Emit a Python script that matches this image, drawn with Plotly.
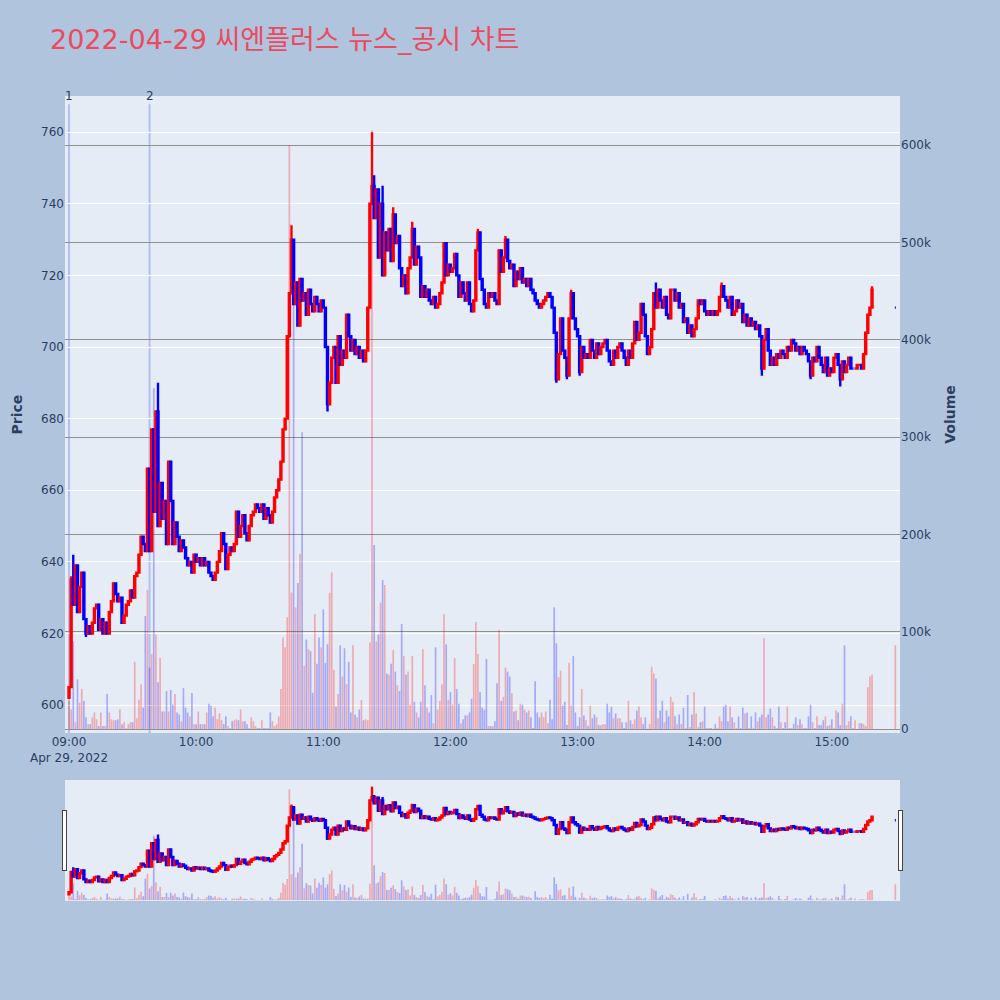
import pandas as pd
import plotly.graph_objects as go

# 2022-04-29 씨엔플러스, 1분봉 (09:00 ~ 15:19) + 15:30 동시호가
start_time = "2022-04-29 09:00"
first_open = 602
closes = [
    605, 635, 628, 639, 626, 633, 637, 624, 620, 622, 620, 623, 627, 628, 621, 624, 620, 623, 620, 626,
    629, 634, 631, 629, 630, 623, 625, 628, 629, 632, 630, 636, 637, 642, 647, 645, 643, 666, 643, 677,
    654, 682, 650, 662, 652, 657, 645, 668, 657, 645, 651, 647, 643, 646, 644, 641, 639, 640, 637, 642,
    640, 641, 639, 641, 639, 640, 637, 636, 635, 637, 640, 643, 648, 645, 638, 642, 644, 643, 645, 654,
    647, 650, 653, 648, 646, 650, 653, 654, 656, 655, 654, 656, 652, 655, 653, 651, 654, 658, 660, 663,
    668, 677, 680, 703, 715, 730, 712, 718, 706, 719, 713, 715, 709, 716, 712, 710, 714, 712, 710, 713,
    711, 700, 684, 690, 697, 700, 690, 703, 695, 699, 697, 709, 703, 699, 702, 698, 700, 697, 699, 696,
    699, 711, 740, 745, 736, 744, 725, 740, 720, 732, 727, 733, 724, 737, 729, 731, 722, 717, 720, 715,
    722, 725, 733, 723, 728, 725, 714, 717, 714, 716, 713, 712, 714, 711, 712, 715, 718, 729, 720, 723,
    721, 722, 726, 720, 714, 718, 715, 713, 718, 712, 710, 713, 727, 732, 719, 716, 712, 711, 715, 714,
    715, 713, 712, 727, 721, 725, 730, 724, 722, 723, 717, 721, 719, 722, 718, 719, 717, 719, 716, 715,
    713, 712, 711, 712, 713, 714, 715, 714, 711, 704, 691, 698, 708, 699, 697, 692, 708, 715, 708, 705,
    703, 693, 700, 697, 698, 697, 702, 699, 697, 701, 698, 700, 701, 702, 699, 696, 695, 699, 697, 700,
    701, 699, 697, 695, 699, 697, 701, 707, 702, 704, 712, 709, 703, 698, 700, 705, 715, 711, 716, 713,
    711, 714, 709, 708, 716, 716, 713, 715, 711, 712, 707, 708, 704, 706, 703, 705, 708, 713, 712, 713,
    710, 709, 710, 709, 710, 709, 710, 714, 717, 714, 713, 711, 714, 709, 710, 713, 711, 712, 707, 709,
    706, 708, 706, 707, 705, 706, 703, 694, 702, 705, 699, 695, 697, 695, 698, 697, 699, 698, 697, 700,
    699, 702, 701, 699, 700, 698, 700, 699, 698, 696, 692, 697, 696, 700, 697, 695, 693, 697, 692, 694,
    693, 697, 698, 695, 691, 696, 693, 695, 697, 694, 694, 694, 695, 695, 694, 698, 704, 709, 711, 716,
]
# 꼬리 (분 인덱스: 가격)
wick_highs = {1: 636, 2: 642, 42: 690, 105: 734, 143: 760, 144: 748, 148: 745, 153: 739, 162: 735,
              193: 733, 206: 731, 237: 716, 277: 718, 308: 718, 379: 717}
wick_lows = {0: 602, 8: 619, 122: 682, 230: 690, 235: 691, 241: 692, 327: 692, 350: 691, 364: 689}

# 거래량 (천 주)
volumes_k = [
    29, 20, 90, 7, 51, 27, 41, 29, 12, 5, 5, 12, 17, 10, 3, 17, 3, 3, 36, 17,
    10, 9, 9, 10, 20, 5, 7, 1, 5, 7, 7, 69, 11, 30, 46, 22, 116, 143, 63, 77,
    350, 97, 48, 73, 18, 18, 39, 18, 40, 25, 36, 17, 15, 8, 42, 22, 17, 13, 37, 5,
    5, 18, 5, 5, 5, 17, 26, 24, 13, 22, 10, 16, 9, 5, 13, 3, 1, 8, 9, 10,
    9, 20, 8, 8, 5, 1, 12, 8, 3, 1, 1, 9, 1, 1, 1, 17, 8, 3, 5, 13,
    41, 94, 84, 115, 600, 140, 470, 125, 150, 180, 305, 65, 92, 82, 80, 37, 118, 67, 94, 84,
    123, 68, 87, 140, 161, 61, 23, 36, 86, 54, 83, 46, 69, 17, 86, 15, 12, 20, 30, 9,
    10, 9, 89, 615, 189, 90, 97, 130, 153, 148, 57, 56, 67, 81, 59, 45, 39, 108, 75, 56,
    59, 25, 75, 28, 17, 12, 28, 82, 45, 22, 17, 35, 6, 84, 20, 29, 46, 118, 87, 30,
    38, 25, 73, 41, 26, 6, 10, 14, 14, 17, 31, 67, 110, 77, 38, 22, 20, 72, 3, 3,
    3, 8, 47, 102, 29, 33, 63, 59, 54, 37, 18, 19, 9, 26, 25, 20, 17, 19, 12, 1,
    49, 17, 12, 17, 12, 18, 6, 30, 10, 125, 88, 53, 60, 24, 28, 4, 68, 24, 75, 17,
    3, 12, 41, 14, 9, 3, 24, 11, 15, 12, 4, 4, 5, 5, 26, 17, 23, 11, 16, 11,
    11, 7, 1, 7, 29, 9, 5, 10, 19, 23, 12, 5, 12, 0.3, 5, 64, 57, 52, 11, 19,
    29, 7, 19, 13, 33, 28, 13, 5, 15, 5, 22, 1, 35, 2, 15, 38, 16, 2, 7, 8,
    23, 1, 1, 1, 0.3, 5, 1, 13, 8, 23, 25, 8, 23, 12, 7, 1, 13, 1, 22, 16,
    17, 1, 13, 1, 17, 8, 12, 15, 93, 12, 15, 21, 12, 3, 1, 23, 7, 1, 7, 23,
    1, 1, 5, 12, 4, 10, 5, 1, 1, 13, 25, 7, 1, 13, 4, 4, 9, 13, 3, 4,
    10, 1, 19, 17, 4, 26, 86, 4, 8, 13, 1, 9, 0, 6, 6, 5, 3, 43, 54, 56,
]
auction_time = "2022-04-29 15:30"
auction_price = 711
auction_volume_k = 86

news_times = ["2022-04-29 09:00", "2022-04-29 09:38"]
news_labels = ["1", "2"]

times = list(pd.date_range(start_time, periods=len(closes), freq="min")) + [pd.Timestamp(auction_time)]
opens = [first_open] + closes[:-1] + [auction_price]
closes_all = closes + [auction_price]
highs = [max(o, c) for o, c in zip(opens, closes_all)]
lows = [min(o, c) for o, c in zip(opens, closes_all)]
for i, v in wick_highs.items():
    highs[i] = max(highs[i], v)
for i, v in wick_lows.items():
    lows[i] = min(lows[i], v)
volumes = [v * 1000 for v in volumes_k] + [auction_volume_k * 1000]
vol_colors = ["rgba(255,0,0,0.28)" if c >= o else "rgba(0,0,255,0.28)" for o, c in zip(opens, closes_all)]

fig = go.Figure()
fig.add_trace(go.Bar(x=times, y=volumes, marker_color=vol_colors, marker_line_width=0,
                     yaxis="y", showlegend=False, name="Volume"))
fig.add_trace(go.Candlestick(x=times, open=opens, high=highs, low=lows, close=closes_all,
                             increasing_line_color="red", increasing_fillcolor="red",
                             decreasing_line_color="blue", decreasing_fillcolor="blue",
                             increasing_line_width=2.4, decreasing_line_width=2.4,
                             yaxis="y2", showlegend=False, name="Price"))

for t, label in zip(news_times, news_labels):
    fig.add_shape(type="line", xref="x", yref="paper", x0=t, x1=t, y0=0, y1=0.987,
                  line=dict(color="rgba(110,140,235,0.45)", width=2), layer="below")
    fig.add_annotation(x=t, y=1, xref="x", yref="paper", text=label, showarrow=False,
                       yanchor="middle", font=dict(size=12, color="#2a3f5f"))

x_range = ["2022-04-29 08:58:06", "2022-04-29 15:32:12"]
fig.update_layout(
    width=1000, height=1000,
    font=dict(family="DejaVu Sans, Noto Sans CJK KR", color="#2a3f5f"),
    title=dict(text="2022-04-29 씨엔플러스 뉴스_공시 차트", x=0.05, xanchor="left",
               y=0.96, yanchor="middle", font=dict(size=27, color="#EB4A5F")),
    paper_bgcolor="#B0C4DE",
    plot_bgcolor="#E5ECF6",
    margin=dict(l=65, r=100, t=96, b=100),
    bargap=0.2,
    xaxis=dict(type="date", range=x_range, showgrid=False,
               rangeslider=dict(visible=True, range=x_range, thickness=0.15, bgcolor="#E5ECF6")),
    yaxis=dict(side="right", range=[-4100, 650400], title=dict(text="<b>Volume</b>", font=dict(size=14)),
               gridcolor="#909090", showgrid=True, zeroline=False, dtick=100000),
    yaxis2=dict(side="left", overlaying="y", range=[592.2, 770.1], dtick=20,
                title=dict(text="<b>Price</b>", font=dict(size=14)),
                gridcolor="white", showgrid=True, zeroline=False),
)

fig.write_html("out.html", config={"displayModeBar": False},
               post_script="document.body.style.margin='0px';document.body.style.overflow='hidden';")
